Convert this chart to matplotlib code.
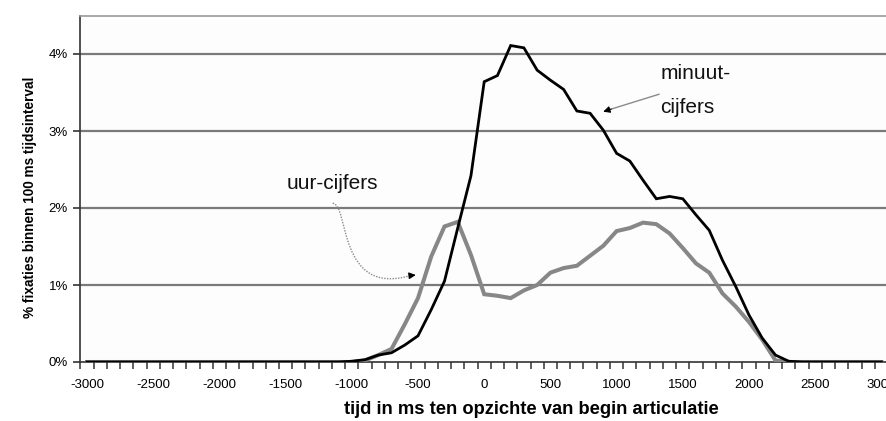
import matplotlib
matplotlib.use("Agg")
import matplotlib.pyplot as plt
from matplotlib.path import Path
from matplotlib.patches import PathPatch
from matplotlib.ticker import FixedLocator, FuncFormatter

plt.rcParams['font.family'] = ['Liberation Sans', 'DejaVu Sans']
plt.rcParams['axes.unicode_minus'] = False

# categories: time in ms relative to start of articulation
times = list(range(-3000, 3001, 100))

# % fixations within 100 ms interval
minuut_cijfers = [0, 0, 0, 0, 0, 0, 0, 0, 0, 0,
                  0, 0, 0, 0, 0, 0, 0, 0, 0, 0,
                  0.01, 0.03, 0.09, 0.12, 0.22, 0.34, 0.68, 1.05, 1.74, 2.42,
                  3.64, 3.72, 4.11, 4.08, 3.79, 3.66, 3.54, 3.26, 3.23, 3.01,
                  2.71, 2.61, 2.36, 2.12, 2.15, 2.12, 1.91, 1.71, 1.32, 0.98,
                  0.61, 0.31, 0.09, 0.01, 0, 0, 0, 0, 0, 0, 0]

uur_cijfers = [0, 0, 0, 0, 0, 0, 0, 0, 0, 0,
               0, 0, 0, 0, 0, 0, 0, 0, 0, 0,
               0, 0.02, 0.09, 0.17, 0.49, 0.83, 1.37, 1.76, 1.82, 1.39,
               0.88, 0.86, 0.83, 0.93, 1.00, 1.16, 1.22, 1.25, 1.38, 1.51,
               1.70, 1.74, 1.81, 1.79, 1.67, 1.48, 1.28, 1.16, 0.89, 0.72,
               0.52, 0.29, 0.02, 0, 0, 0, 0, 0, 0, 0, 0]

y_ticks = [0, 1, 2, 3, 4]
x_label_ticks = list(range(-3000, 3001, 500))

W, H = 886, 421
fig = plt.figure(figsize=(W / 100, H / 100), dpi=100)
fig.patch.set_facecolor('white')

left_px, right_px, top_px, bottom_px = 80.4, 888.0, 15.5, 362.0
ax = fig.add_axes([left_px / W, (H - bottom_px) / H,
                   (right_px - left_px) / W, (bottom_px - top_px) / H])
ax.set_facecolor('#fdfdfd')

ax.set_xlim(-3050, 3050)
ax.set_ylim(0, 4.5)

# gridlines
for yv in y_ticks[1:]:
    ax.axhline(yv, color='#7a7a7a', lw=1.6, zorder=1)

ax.plot(times, uur_cijfers, color='#878787', lw=2.9, zorder=3,
        solid_joinstyle='miter')
ax.plot(times, minuut_cijfers, color='black', lw=2.0, zorder=4,
        solid_joinstyle='miter')

# axes styling
ax.spines['right'].set_visible(False)
ax.spines['top'].set_color('#9a9a9a')
ax.spines['top'].set_linewidth(1.2)
ax.spines['left'].set_color('#333333')
ax.spines['left'].set_linewidth(1.2)
ax.spines['bottom'].set_color('#333333')
ax.spines['bottom'].set_linewidth(1.2)

ax.yaxis.set_major_locator(FixedLocator(y_ticks))
ax.yaxis.set_major_formatter(FuncFormatter(lambda v, p: f"{int(v)}%"))
ax.tick_params(axis='y', direction='out', length=5, width=1.2, color='#333333',
               labelsize=9.5, pad=4)

ax.xaxis.set_major_locator(FixedLocator(x_label_ticks))
ax.xaxis.set_minor_locator(FixedLocator([t - 50 for t in times] + [3050]))
ax.tick_params(axis='x', which='major', length=0, labelsize=9.5, pad=12)
ax.tick_params(axis='x', which='minor', direction='out', length=5, width=1.1,
               color='#333333')

fig.text(30 / W, (H - 197) / H, '% fixaties binnen 100 ms tijdsinterval',
         rotation=90, ha='center', va='center', fontsize=9.8, fontweight='bold')
fig.text(531 / W, (H - 410) / H, 'tijd in ms ten opzichte van begin articulatie',
         ha='center', va='center', fontsize=13.2, fontweight='bold')

# annotations
ax.text(-1150, 2.32, 'uur-cijfers', fontsize=15, ha='center', va='center',
        color='#111111', zorder=6)
ax.text(1330, 3.75, 'minuut-', fontsize=15, ha='left', va='center',
        color='#111111', zorder=6)
ax.text(1330, 3.31, 'cijfers', fontsize=15, ha='left', va='center',
        color='#111111', zorder=6)

# minuut arrow
ax.plot([1320, 960], [3.477, 3.285], color='#8a8a8a', lw=1.0, zorder=5)
ax.annotate('', xy=(899, 3.251), xytext=(960, 3.285),
            arrowprops=dict(arrowstyle='-|>', color='black', lw=0.8,
                            mutation_scale=10, shrinkA=0, shrinkB=0), zorder=6)

# uur arrow (curved, dotted)
verts = [(-1144, 2.061), (-1020, 2.05), (-1110, 0.85), (-560, 1.121)]
codes = [Path.MOVETO, Path.CURVE4, Path.CURVE4, Path.CURVE4]
ax.add_patch(PathPatch(Path(verts, codes), fill=False, edgecolor='#8a8a8a',
                       lw=1.0, linestyle=(0, (1, 1)), zorder=5))
ax.annotate('', xy=(-517, 1.13), xytext=(-565, 1.121),
            arrowprops=dict(arrowstyle='-|>', color='black', lw=0.8,
                            mutation_scale=10, shrinkA=0, shrinkB=0), zorder=6)

fig.savefig('out.png', dpi=100)
